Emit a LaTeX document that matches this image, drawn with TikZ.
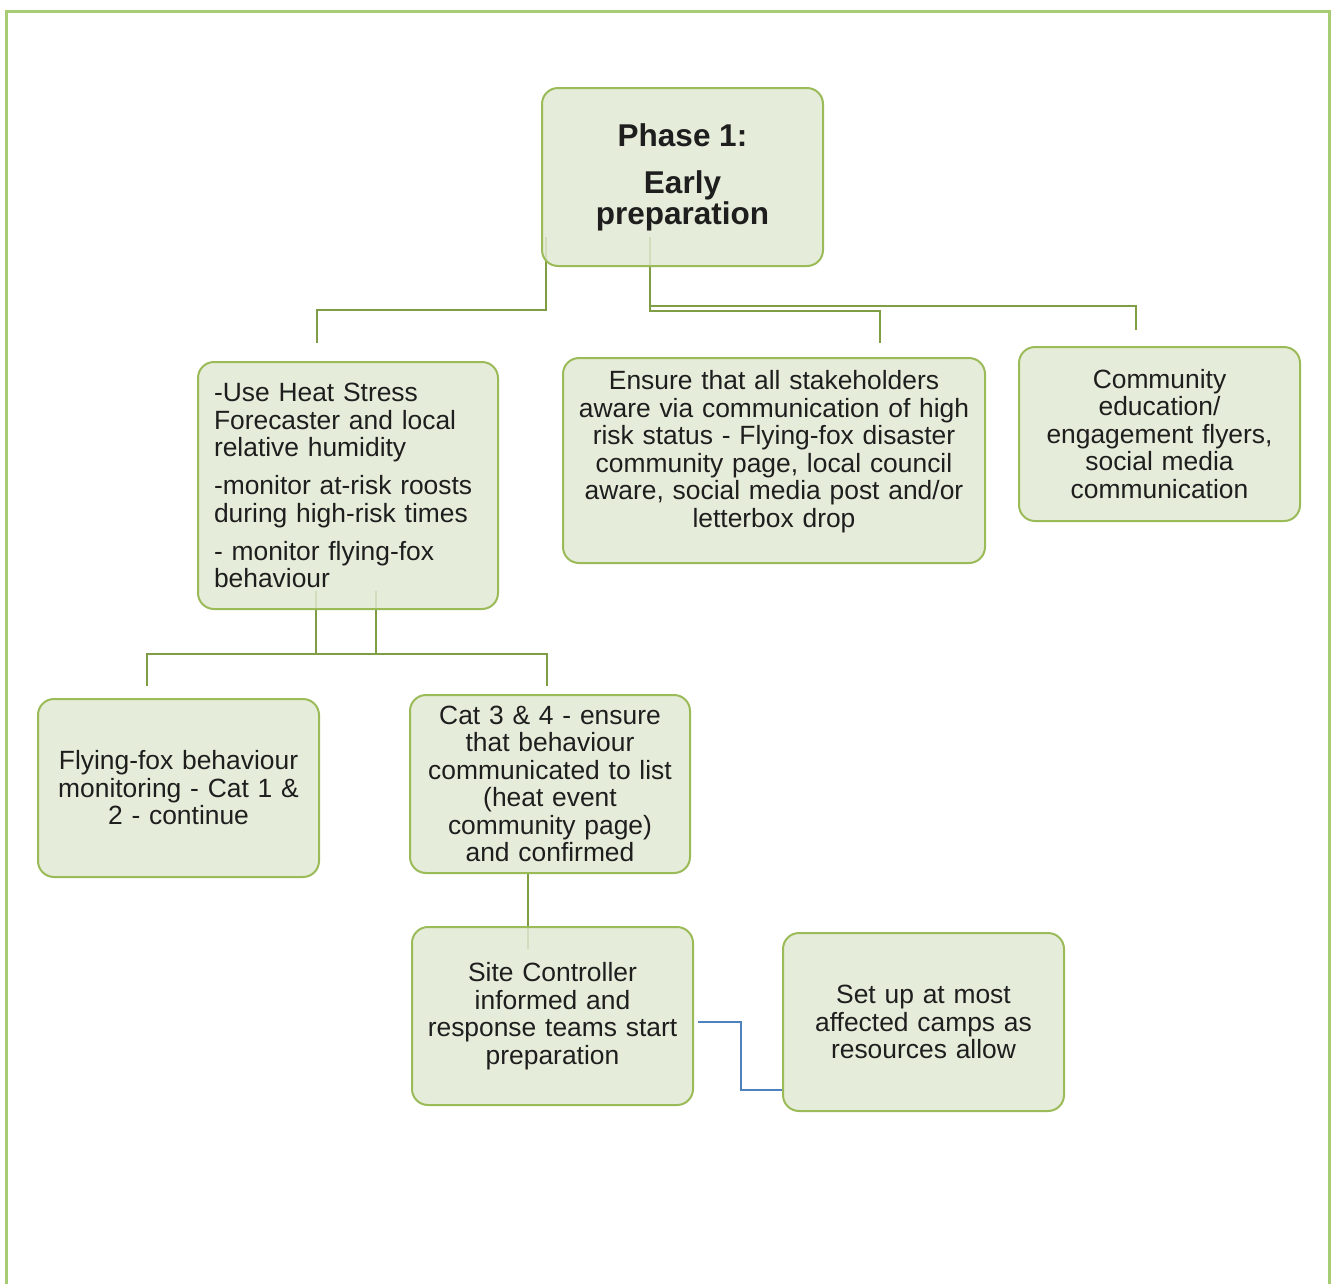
\documentclass[tikz,border=0pt]{standalone}
\usepackage{fontspec}
\setmainfont{Liberation Sans}
\usetikzlibrary{backgrounds}
\definecolor{boxline}{HTML}{9BBB59}
\definecolor{boxfill}{HTML}{E1E9D3}
\definecolor{linkgreen}{HTML}{7E9D45}
\definecolor{framegreen}{HTML}{A8CC74}
\definecolor{linkblue}{HTML}{4F81BD}
\definecolor{textdark}{HTML}{1E1E1E}
\begin{document}
\begin{tikzpicture}[x=1pt, y=-1pt,
  box/.style={rectangle, rounded corners=16pt, draw=boxline, line width=2pt,
    fill=boxfill, fill opacity=0.85, text opacity=1, text=textdark,
    minimum width=281pt, minimum height=178pt, align=center,
    font=\fontsize{26.4}{27.5}\selectfont},
  phasebox/.style={box, font=\fontsize{31.5}{31}\selectfont\bfseries},
  link/.style={draw=linkgreen, line width=2pt},
  bluelink/.style={draw=linkblue, line width=2pt},
]
\useasboundingbox (0,0) rectangle (1333,1283);
\draw[framegreen, line width=3pt] (6,1290) -- (6,11) -- (1329,11) -- (1329,1290);

\node[phasebox] (phase) at (682.5,177)
  {Phase 1:\\[16pt]Early\\preparation};

\node[box, align=left, text width=268pt, minimum width=300pt,
  minimum height=247pt] (monitor) at (348,485.5)
  {-Use Heat Stress\\Forecaster and local\\relative humidity\\[10.5pt]
   -monitor at-risk roosts\\during high-risk times\\[10.5pt]
   - monitor flying-fox\\behaviour};

\node[box, text width=400pt, minimum width=422pt, minimum height=205pt]
  (stake) at (774,460.5)
  {Ensure that all stakeholders\\aware via communication of high\\
   risk status - Flying-fox disaster\\community page, local council\\
   aware, social media post and/or\\letterbox drop\\[-4pt]\mbox{}};

\node[box, text width=260pt, minimum height=174pt] (community) at (1159.5,434)
  {Community\\education/\\engagement flyers,\\social media\\communication};

\node[box, text width=260pt] (ff12) at (178.5,788)
  {Flying-fox behaviour\\monitoring - Cat 1 \&\\2 - continue};

\node[box, text width=260pt, minimum width=280pt] (cat34) at (550,784)
  {Cat 3 \& 4 - ensure\\that behaviour\\communicated to list\\(heat event\\
   community page)\\and confirmed};

\node[box, text width=265pt] (site) at (552.5,1016)
  {Site Controller\\informed and\\response teams start\\preparation};

\node[box, text width=260pt] (setup) at (923.5,1022)
  {Set up at most\\affected camps as\\resources allow};

\begin{pgfonlayer}{background}
\draw[link] ([xshift=5pt,yshift=30pt]phase.south west) -- ++(0,73)
  -| ([xshift=-31pt,yshift=18pt]monitor.north);
\draw[link] ([xshift=109pt,yshift=30pt]phase.south west) -- ++(0,74)
  -| ([xshift=106pt,yshift=14pt]stake.north);
\draw[link] ([xshift=109pt,yshift=30pt]phase.south west) -- ++(0,69)
  -| ([xshift=-23.5pt,yshift=16pt]community.north);

\draw[link] ([xshift=179pt,yshift=19pt]monitor.south west) -- ++(0,63)
  -| ([xshift=-31.5pt,yshift=12pt]ff12.north);
\draw[link] ([xshift=119pt,yshift=19pt]monitor.south west) -- ++(0,63)
  -| ([xshift=-3pt,yshift=8pt]cat34.north);

\draw[link] ([xshift=-22pt]cat34.south) -- ([xshift=-24.5pt,yshift=-23pt]site.north);
\end{pgfonlayer}

\draw[bluelink] ([xshift=4pt,yshift=-6pt]site.east) -- ++(43,0)
  |- ([yshift=-68pt]setup.west);

\end{tikzpicture}
\end{document}
